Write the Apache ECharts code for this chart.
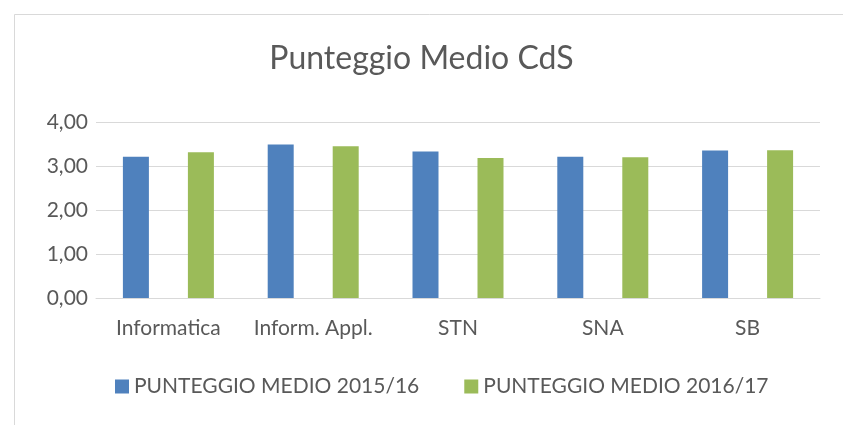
<!DOCTYPE html>
<html>
<head>
<meta charset="utf-8">
<script src="https://cdn.jsdelivr.net/npm/echarts@6/dist/echarts.min.js"></script>
<style>html,body{margin:0;padding:0;background:#fff}#c{width:843px;height:425px}</style>
</head>
<body>
<div id="c"></div>
<script>
const categories = ['Informatica', 'Inform. Appl.', 'STN', 'SNA', 'SB'];
const series2015 = [3.21, 3.49, 3.33, 3.21, 3.35];
const series2016 = [3.31, 3.45, 3.18, 3.20, 3.36];
const seriesNames = ['PUNTEGGIO MEDIO 2015/16', 'PUNTEGGIO MEDIO 2016/17'];
const titleText = 'Punteggio Medio CdS';

const FONT = 'Lato, "Open Sans", sans-serif';
const chart = echarts.init(document.getElementById('c'), null, {renderer: 'canvas'});
chart.setOption({
  animation: false,
  backgroundColor: '#fff',
  graphic: [{
    type: 'rect', left: 12, top: 12, shape: {width: 900, height: 500},
    style: {fill: 'none', stroke: '#d9d9d9', lineWidth: 1}, silent: true
  }],
  title: {
    text: titleText, left: 'center', top: 38,
    textStyle: {fontFamily: FONT, fontSize: 32, fontWeight: 'normal', color: '#595959'}
  },
  legend: {
    data: seriesNames, left: 110, top: 371,
    icon: 'rect', itemWidth: 14, itemHeight: 14, itemGap: 45,
    textStyle: {fontFamily: FONT, fontSize: 21, color: '#595959'}
  },
  grid: {left: 96, right: 23, top: 122, bottom: 127, containLabel: false},
  xAxis: {
    type: 'category', data: categories,
    axisLine: {lineStyle: {color: '#d9d9d9', width: 1}},
    axisTick: {show: false},
    axisLabel: {fontFamily: FONT, fontSize: 21, color: '#595959', margin: 20,
      interval: 0, hideOverlap: false}
  },
  yAxis: {
    type: 'value', min: 0, max: 4, interval: 1,
    axisLine: {show: false}, axisTick: {show: false},
    splitLine: {lineStyle: {color: '#d9d9d9', width: 1}},
    axisLabel: {fontFamily: FONT, fontSize: 21, color: '#595959', margin: 8,
      formatter: v => v.toFixed(2).replace('.', ',')}
  },
  series: [
    {name: seriesNames[0], type: 'bar', data: series2015, barWidth: 26, barGap: '150%',
     itemStyle: {color: '#4F81BD'}},
    {name: seriesNames[1], type: 'bar', data: series2016, barWidth: 26, barGap: '150%',
     itemStyle: {color: '#9BBB59'}}
  ]
});
</script>
</body>
</html>
